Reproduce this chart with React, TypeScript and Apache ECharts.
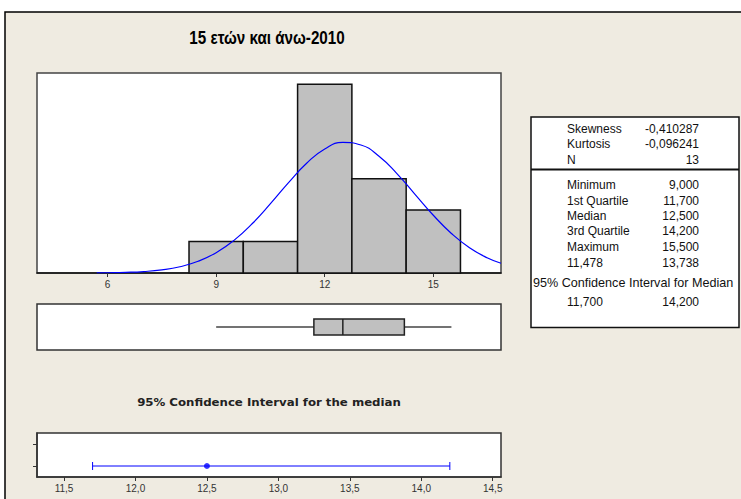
import React, { useEffect, useRef } from "react";
import * as echarts from "echarts";

const titleText = "15 ετών και άνω-2010";
const ciTitleText = "95% Confidence Interval for the median";

// Histogram bins
const binStarts = [8.25, 9.75, 11.25, 12.75, 14.25];
const binEnds = [9.75, 11.25, 12.75, 14.25, 15.75];
const binCounts = [1, 1, 6, 3, 2];
const histTicks = [6, 9, 12, 15];

// Fitted curve
const curveX = [5.7, 6, 6.5, 7, 7.5, 8, 8.5, 9, 9.5, 10, 10.5, 11, 11.5, 12, 12.5, 13, 13.5, 14, 14.5, 15, 15.5, 16, 16.5, 16.87];
const curveY = [0.005, 0.008, 0.02, 0.046, 0.1, 0.2, 0.372, 0.647, 1.045, 1.573, 2.204, 2.874, 3.49, 3.946, 4.153, 4.07, 3.713, 3.153, 2.494, 1.836, 1.258, 0.803, 0.477, 0.31];

// Boxplot: min, Q1, median, Q3, max
const boxStats = [9.0, 11.7, 12.5, 14.2, 15.5];

// Confidence interval for the median
const ciLow = 11.7;
const ciHigh = 14.2;
const ciMedian = 12.5;
const ciTicks = [11.5, 12.0, 12.5, 13.0, 13.5, 14.0, 14.5];

// Stats table
const statsTopLabels = ["Skewness", "Kurtosis", "N"];
const statsTopValues = ["-0,410287", "-0,096241", "13"];
const statsBottomLabels = ["Minimum", "1st Quartile", "Median", "3rd Quartile", "Maximum", "11,478"];
const statsBottomValues = ["9,000", "11,700", "12,500", "14,200", "15,500", "13,738"];
const ciHeader = "95% Confidence Interval for Median";
const ciValues = ["11,700", "14,200"];

const tickFont = { fontFamily: "'Liberation Sans', Arial, sans-serif", fontSize: 10, color: "#333" };
const statFont = "'Liberation Sans', Arial, sans-serif";

export default function App() {
  const ref = useRef<HTMLDivElement>(null);
  useEffect(() => {
    document.body.style.margin = "0";
    if (!ref.current) return;
    const chart = echarts.init(ref.current, undefined, { renderer: "svg" });

    const topRows = [128.5, 144, 159.5];
    const bottomRows = [185, 200.5, 216, 231, 246.5, 262.5];
    const sf = 12;

    const txt = (text: string, x: number, y: number, align: string, size = sf) => ({
      type: "text",
      style: { text, x, y, align, verticalAlign: "middle", fontFamily: statFont, fontSize: size, fill: "#111" },
    });

    const statTexts: any[] = [];
    statsTopLabels.forEach((l, i) => {
      statTexts.push(txt(l, 567, topRows[i], "left"));
      statTexts.push(txt(statsTopValues[i], 699, topRows[i], "right"));
    });
    statsBottomLabels.forEach((l, i) => {
      statTexts.push(txt(l, 567, bottomRows[i], "left"));
      statTexts.push(txt(statsBottomValues[i], 699, bottomRows[i], "right"));
    });
    statTexts.push(txt(ciHeader, 533, 283, "left", 12.6));
    statTexts.push(txt(ciValues[0], 567, 302, "left"));
    statTexts.push(txt(ciValues[1], 699, 302, "right"));

    const option: any = {
      animation: false,
      backgroundColor: "#ffffff",
      graphic: [
        { type: "rect", z: -100, shape: { x: 5, y: 12, width: 760, height: 520 }, style: { fill: "#EFEBE1", stroke: "#000", lineWidth: 1.5 } },
        { type: "text", x: 267, y: 37, scaleX: 0.8, style: { text: titleText, x: 0, y: 0, align: "center", verticalAlign: "middle", fontFamily: "'Liberation Sans', Arial, sans-serif", fontWeight: "bold", fontSize: 19, fill: "#000" } },
        { type: "text", x: 269, y: 402, scaleX: 1.07, style: { text: ciTitleText, x: 0, y: 0, align: "center", verticalAlign: "middle", fontFamily: "'DejaVu Sans', sans-serif", fontWeight: "bold", fontSize: 11, fill: "#222" } },
        { type: "rect", shape: { x: 531, y: 117, width: 208, height: 210.5 }, style: { fill: "#fff", stroke: "#111", lineWidth: 1.5 } },
        { type: "line", shape: { x1: 531, y1: 169.5, x2: 739, y2: 169.5 }, style: { stroke: "#111", lineWidth: 2 } },
        ...statTexts,
      ],
      grid: [
        { left: 37, top: 73, width: 464, height: 200, show: true, backgroundColor: "#fff", borderColor: "#444", borderWidth: 1.5 },
        { left: 37, top: 304, width: 464, height: 46, show: true, backgroundColor: "#fff", borderColor: "#333", borderWidth: 1.5 },
        { left: 37, top: 433, width: 464, height: 44, show: true, backgroundColor: "#fff", borderColor: "#333", borderWidth: 1.5 },
      ],
      xAxis: [
        {
          type: "value", gridIndex: 0, min: 4.05, max: 16.87,
          axisLine: { show: true, onZero: false, lineStyle: { color: "#111", width: 1.5 } },
          axisTick: { show: true, customValues: histTicks, length: 4, lineStyle: { color: "#333" } },
          axisLabel: { show: true, customValues: histTicks, margin: 6, ...tickFont },
          splitLine: { show: false },
        },
        {
          type: "value", gridIndex: 1, min: 4.05, max: 16.87,
          axisLine: { show: false }, axisTick: { show: false }, axisLabel: { show: false }, splitLine: { show: false },
        },
        {
          type: "value", gridIndex: 2, min: 11.311, max: 14.558,
          axisLine: { show: true, onZero: false, lineStyle: { color: "#333", width: 1.5 } },
          axisTick: { show: true, customValues: ciTicks, length: 4, lineStyle: { color: "#333" } },
          axisLabel: { show: true, customValues: ciTicks, margin: 6, formatter: (v: number) => v.toFixed(1).replace(".", ","), ...tickFont },
          splitLine: { show: false },
        },
      ],
      yAxis: [
        { type: "value", gridIndex: 0, min: 0, max: 6.36, show: false },
        { type: "value", gridIndex: 1, min: 0, max: 1, show: false },
        {
          type: "value", gridIndex: 2, min: -0.5, max: 1.5,
          axisLine: { show: true, lineStyle: { color: "#333", width: 1.5 } },
          axisTick: { show: true, customValues: [0, 1], length: 4, lineStyle: { color: "#333" } },
          axisLabel: { show: false }, splitLine: { show: false },
        },
      ],
      series: [
        {
          type: "custom", xAxisIndex: 0, yAxisIndex: 0,
          data: binCounts.map((c, i) => [binStarts[i], binEnds[i], c]),
          encode: { x: [0, 1], y: 2 },
          renderItem: (params: any, api: any) => {
            const p0 = api.coord([api.value(0), 0]);
            const p1 = api.coord([api.value(1), api.value(2)]);
            return {
              type: "rect",
              shape: { x: p0[0], y: p1[1], width: p1[0] - p0[0], height: p0[1] - p1[1] },
              style: { fill: "#C0C0C0", stroke: "#111", lineWidth: 1.5 },
            };
          },
          z: 2,
        },
        {
          type: "line", xAxisIndex: 0, yAxisIndex: 0,
          data: curveX.map((x, i) => [x, curveY[i]]),
          smooth: true, showSymbol: false, symbol: "none",
          lineStyle: { color: "#0000FF", width: 1.2 },
          z: 3,
        },
        {
          type: "custom", xAxisIndex: 1, yAxisIndex: 1,
          data: [boxStats],
          encode: { x: [0, 1, 2, 3, 4] },
          renderItem: (params: any, api: any) => {
            const mn = api.coord([api.value(0), 0.5]);
            const q1 = api.coord([api.value(1), 0.5]);
            const md = api.coord([api.value(2), 0.5]);
            const q3 = api.coord([api.value(3), 0.5]);
            const mx = api.coord([api.value(4), 0.5]);
            const h = 8;
            return {
              type: "group",
              children: [
                { type: "line", shape: { x1: mn[0], y1: mn[1], x2: q1[0], y2: q1[1] }, style: { stroke: "#444", lineWidth: 1.5 } },
                { type: "line", shape: { x1: q3[0], y1: q3[1], x2: mx[0], y2: mx[1] }, style: { stroke: "#444", lineWidth: 1.5 } },
                { type: "rect", shape: { x: q1[0], y: q1[1] - h, width: q3[0] - q1[0], height: 2 * h }, style: { fill: "#C0C0C0", stroke: "#222", lineWidth: 1.5 } },
                { type: "line", shape: { x1: md[0], y1: md[1] - h, x2: md[0], y2: md[1] + h }, style: { stroke: "#222", lineWidth: 1.5 } },
              ],
            };
          },
        },
        {
          type: "custom", xAxisIndex: 2, yAxisIndex: 2,
          data: [[ciLow, ciHigh, 0]],
          encode: { x: [0, 1], y: 2 },
          renderItem: (params: any, api: any) => {
            const a = api.coord([api.value(0), api.value(2)]);
            const b = api.coord([api.value(1), api.value(2)]);
            const c = 4;
            return {
              type: "group",
              children: [
                { type: "line", shape: { x1: a[0], y1: a[1], x2: b[0], y2: b[1] }, style: { stroke: "#0000FF", lineWidth: 1 } },
                { type: "line", shape: { x1: a[0], y1: a[1] - c, x2: a[0], y2: a[1] + c }, style: { stroke: "#0000FF", lineWidth: 1 } },
                { type: "line", shape: { x1: b[0], y1: b[1] - c, x2: b[0], y2: b[1] + c }, style: { stroke: "#0000FF", lineWidth: 1 } },
              ],
            };
          },
        },
        {
          type: "scatter", xAxisIndex: 2, yAxisIndex: 2,
          data: [[ciMedian, 0]],
          symbol: "circle", symbolSize: 6,
          itemStyle: { color: "#0000FF" },
          z: 5,
        },
      ],
    };
    chart.setOption(option);
    return () => chart.dispose();
  }, []);
  return <div ref={ref} style={{ width: 741, height: 499 }} />;
}
